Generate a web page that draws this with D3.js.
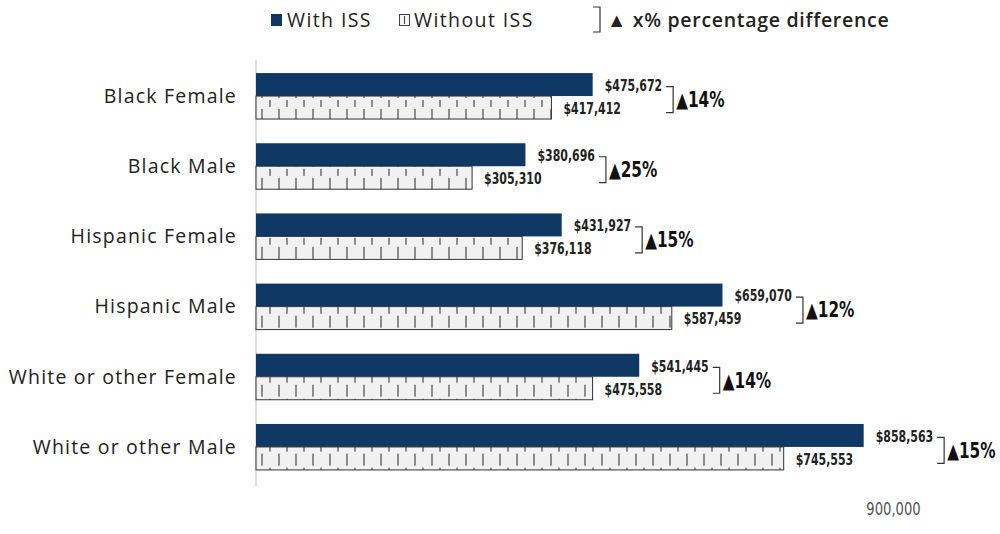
<!DOCTYPE html>
<html><head><meta charset="utf-8">
<script src="https://d3js.org/d3.v7.min.js"></script>
<style>body{margin:0;background:#fff;} svg{display:block;}</style>
</head><body>
<svg id="chart"></svg>
<script>
// data
const groups = ['Black Female','Black Male','Hispanic Female','Hispanic Male','White or other Female','White or other Male'];
const withISS = [475672, 380696, 431927, 659070, 541445, 858563];
const withoutISS = [417412, 305310, 376118, 587459, 475558, 745553];
const pctDiff = ['14%','25%','15%','12%','14%','15%'];
const xTicks = [900000];

const W = 1000, H = 534;
const navy = '#0f3864';
const narrow = "'DejaVu Sans',sans-serif";
const sans = "'Open Sans',Lato,sans-serif";
const sq = 0.73; // horizontal squeeze to mimic the condensed face

const svg = d3.select('#chart').attr('width', W).attr('height', H);

const x = d3.scaleLinear().domain([0, 900000]).range([256, 893]);
const y = d3.scaleBand().domain(groups).range([61, 482]).paddingInner(0.345).paddingOuter(0.172);
const half = y.bandwidth() / 2;

// condensed text: squeezed horizontally, returns the drawn width
function narrowText(sel, tx, ty, size, weight, str, fill) {
  const t = sel.append('text').attr('transform', `translate(${tx},${ty}) scale(${sq},1)`)
    .attr('dy', '0.35em').attr('font-family', narrow).attr('font-weight', weight)
    .attr('font-size', size).attr('fill', fill || '#222').text(str);
  return t.node().getComputedTextLength() * sq;
}

// hatch pattern for the "without" bars
const defs = svg.append('defs');
const pat = defs.append('pattern').attr('id', 'hatch').attr('patternUnits', 'userSpaceOnUse')
  .attr('width', 17).attr('height', half).attr('x', 256).attr('y', 0);
pat.append('rect').attr('width', 17).attr('height', half).attr('fill', '#f1f1f1');
pat.append('line').attr('x1', 6).attr('x2', 6).attr('y1', 0).attr('y2', 6).attr('stroke', '#555').attr('stroke-width', 1.3);
pat.append('line').attr('x1', 14).attr('x2', 14).attr('y1', 8).attr('y2', 15).attr('stroke', '#555').attr('stroke-width', 1.3);
pat.append('line').attr('x1', 6).attr('x2', 6).attr('y1', 17).attr('y2', 24).attr('stroke', '#555').attr('stroke-width', 1.3);

// category axis line
svg.append('line').attr('x1', x(0)).attr('x2', x(0)).attr('y1', 60).attr('y2', 486)
  .attr('stroke', '#d4d4d4').attr('stroke-width', 1.5);

// bottom axis (only the 900,000 label shows)
const xAxis = svg.append('g').attr('transform', 'translate(0,499)')
  .call(d3.axisBottom(x).tickValues(xTicks).tickSize(0).tickFormat(d3.format(',')));
xAxis.select('.domain').remove();
xAxis.selectAll('text').attr('font-family', narrow).attr('font-size', 18).attr('fill', '#555')
  .attr('transform', `scale(${sq},1)`);

// category labels
svg.append('g').selectAll('text').data(groups).join('text')
  .attr('x', 237).attr('y', d => y(d) + half).attr('dy', '0.35em')
  .attr('text-anchor', 'end').attr('font-family', sans).attr('font-size', 19.5)
  .attr('letter-spacing', 1.2).attr('fill', '#222')
  .text(d => d);

const fmt = d3.format('$,');
const rows = groups.map((g, i) => ({g, w: withISS[i], wo: withoutISS[i], p: pctDiff[i]}));
const row = svg.append('g').selectAll('g').data(rows).join('g');

row.append('rect').attr('x', x(0)).attr('y', d => y(d.g)).attr('height', half)
  .attr('width', d => x(d.w) - x(0)).attr('fill', navy);
row.append('rect').attr('x', x(0)).attr('y', d => y(d.g) + half).attr('height', half)
  .attr('width', d => x(d.wo) - x(0)).attr('fill', 'url(#hatch)').attr('stroke', '#333').attr('stroke-width', 1);

// value labels, brackets and percentage differences
row.each(function(d) {
  const g = d3.select(this);
  const top = y(d.g) + half / 2 + 1, bot = y(d.g) + half * 1.5 + 1;
  const w1 = narrowText(g, x(d.w) + 12, top, 15, 'bold', fmt(d.w));
  const w2 = narrowText(g, x(d.wo) + 12, bot, 15, 'bold', fmt(d.wo));
  const end = Math.max(x(d.w) + 12 + w1, x(d.wo) + 12 + w2);
  const bx = end + 11, b0 = top + 1, b1 = bot + 4;
  g.append('path').attr('d', `M${bx - 7},${b0}H${bx}V${b1}H${bx - 7}`)
    .attr('fill', 'none').attr('stroke', '#333').attr('stroke-width', 1.2);
  narrowText(g, bx + 3, (b0 + b1) / 2, 21, 'bold', '\u25B2' + d.p, '#111');
});

// legend
const leg = svg.append('g').attr('font-family', sans).attr('font-size', 19.5)
  .attr('letter-spacing', 1.4).attr('fill', '#222');
leg.append('rect').attr('x', 271).attr('y', 14).attr('width', 11).attr('height', 12).attr('fill', navy);
leg.append('text').attr('x', 287).attr('y', 20).attr('dy', '0.35em').text('With ISS');
leg.append('rect').attr('x', 399.5).attr('y', 14.5).attr('width', 10).attr('height', 11).attr('fill', '#f4f4f4').attr('stroke', '#444');
leg.append('line').attr('x1', 404.5).attr('x2', 404.5).attr('y1', 16).attr('y2', 24).attr('stroke', '#444');
leg.append('text').attr('x', 414).attr('y', 20).attr('dy', '0.35em').text('Without ISS');
leg.append('path').attr('d', 'M593,7H600V32H593').attr('fill', 'none').attr('stroke', '#333').attr('stroke-width', 1.2);
leg.append('text').attr('x', 607).attr('y', 20).attr('dy', '0.35em').attr('font-weight', 600)
  .attr('letter-spacing', 0.7).text('\u25B2 x% percentage difference');
</script>
</body></html>
